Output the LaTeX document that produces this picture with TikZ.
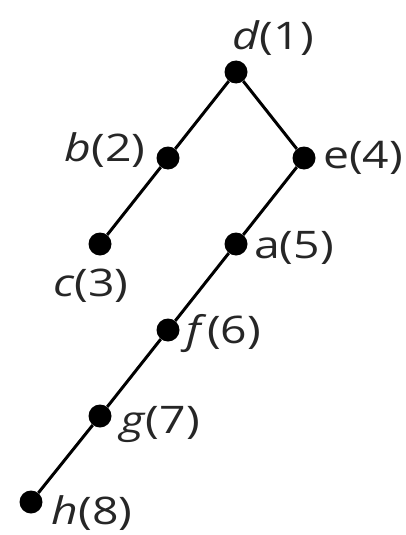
\documentclass[tikz,border=0pt]{standalone}
\usepackage{fontspec}
\setmainfont{Open Sans}[FakeStretch=1.22]
\usetikzlibrary{positioning}

\tikzset{
  vertex/.style={circle,fill=black,inner sep=0pt,minimum size=23pt},
  vlabel/.style={font=\fontsize{38}{40}\selectfont,inner sep=0pt,text=black!85},
  edge/.style={line width=3pt}
}

\begin{document}
\begin{tikzpicture}[x=1pt,y=-1pt]
\useasboundingbox (0,0) rectangle (406,535);
% vertices
\node[vertex] (d) at (236,72) {};
\node[vertex] (b) at (168,158) {};
\node[vertex] (e) at (304,158) {};
\node[vertex] (c) at (100,244) {};
\node[vertex] (a) at (236,244) {};
\node[vertex] (f) at (168,330) {};
\node[vertex] (g) at (100,416) {};
\node[vertex] (h) at (31,502) {};
% edges
\draw[edge] (d) -- (b);
\draw[edge] (b) -- (c);
\draw[edge] (d) -- (e);
\draw[edge] (e) -- (a);
\draw[edge] (a) -- (f);
\draw[edge] (f) -- (g);
\draw[edge] (g) -- (h);
% labels
\node[vlabel] (ld) at (273,38) {\textit{d}(1)};
\node[vlabel] (lb) at (105,150) {\textit{b}(2)};
\node[vlabel] (le) at (363,158) {e(4)};
\node[vlabel] (lc) at (91,286) {\textit{c}(3)};
\node[vlabel] (la) at (294,248) {a(5)};
\node[vlabel] (lf) at (224,334) {\textit{f}(6)};
\node[vlabel] (lg) at (160,424) {\textit{g}(7)};
\node[vlabel] (lh) at (92,513) {\textit{h}(8)};
\end{tikzpicture}
\end{document}
